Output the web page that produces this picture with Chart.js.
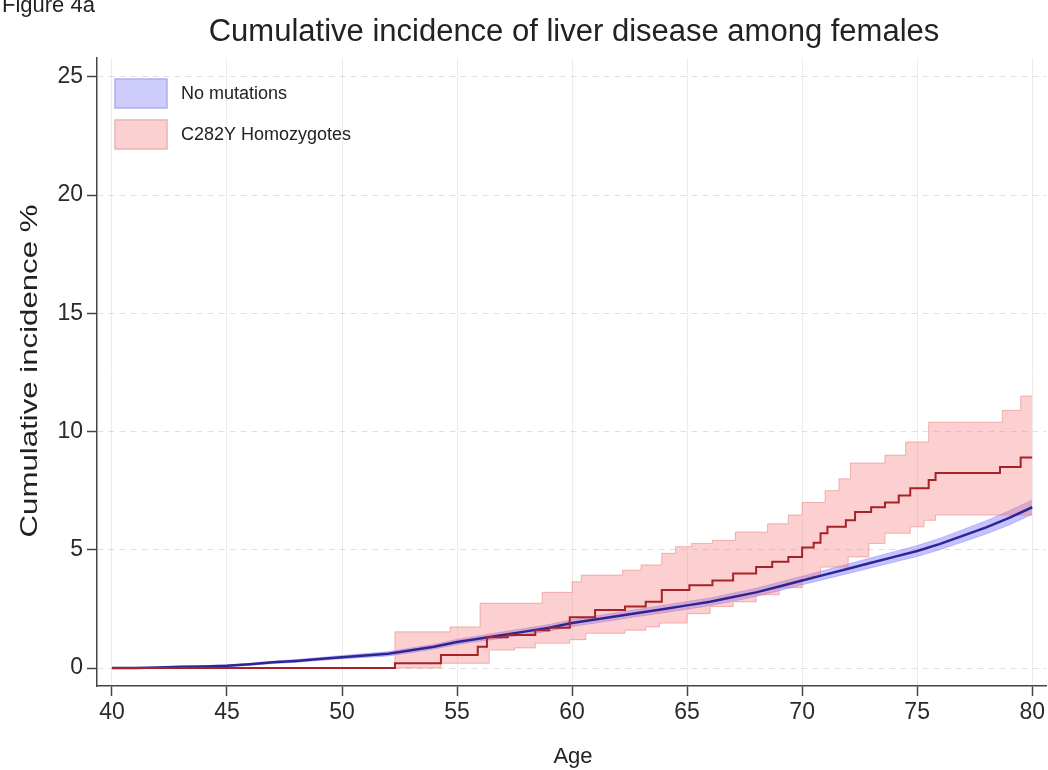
<!DOCTYPE html>
<html>
<head>
<meta charset="utf-8">
<title>Cumulative incidence of liver disease among females</title>
<script src="https://cdn.jsdelivr.net/npm/chart.js@4.4.1/dist/chart.umd.min.js"></script>
<style>
  html, body { margin: 0; padding: 0; background: #fff; }
  #wrap { width: 1048px; height: 770px; }
</style>
</head>
<body>
<div id="wrap"><canvas id="chart" width="1048" height="770"></canvas></div>
<script>
const FONT = "'Liberation Sans', Arial, Helvetica, sans-serif";

const figureLabel = 'Figure 4a';
const chartTitle = 'Cumulative incidence of liver disease among females';
const xTitle = 'Age';
const yTitle = 'Cumulative incidence %';
const seriesNames = ['No mutations', 'C282Y Homozygotes'];

const xTicks = [40, 45, 50, 55, 60, 65, 70, 75, 80];
const yTicks = [0, 5, 10, 15, 20, 25];

// No mutations: estimate and confidence band, read at each year of age
const blueAges = [40, 41, 42, 43, 44, 45, 46, 47, 48, 49, 50, 51, 52, 53, 54, 55, 56, 57, 58, 59,
  60, 61, 62, 63, 64, 65, 66, 67, 68, 69, 70, 71, 72, 73, 74, 75, 76, 77, 78, 79, 80];
const blueValues = [0, 0, 0.02, 0.05, 0.07, 0.1, 0.16, 0.24, 0.3, 0.38, 0.46, 0.53, 0.6, 0.75, 0.9, 1.1, 1.25, 1.4, 1.55, 1.7,
  1.9, 2.05, 2.2, 2.35, 2.5, 2.65, 2.8, 3.0, 3.2, 3.45, 3.7, 3.95, 4.2, 4.45, 4.7, 4.95, 5.25, 5.6, 5.95, 6.35, 6.8];
const blueUpper = [0.01, 0.01, 0.04, 0.08, 0.1, 0.14, 0.2, 0.29, 0.36, 0.44, 0.53, 0.61, 0.69, 0.85, 1.0, 1.21, 1.37, 1.53, 1.68, 1.84,
  2.04, 2.2, 2.35, 2.5, 2.66, 2.81, 2.96, 3.17, 3.37, 3.63, 3.88, 4.14, 4.4, 4.66, 4.92, 5.18, 5.49, 5.86, 6.23, 6.65, 7.1];
const blueLower = [0, 0, 0.01, 0.03, 0.04, 0.06, 0.12, 0.19, 0.24, 0.32, 0.39, 0.45, 0.51, 0.65, 0.8, 0.99, 1.13, 1.27, 1.42, 1.56,
  1.76, 1.9, 2.05, 2.2, 2.34, 2.49, 2.64, 2.83, 3.03, 3.27, 3.52, 3.76, 4.0, 4.24, 4.48, 4.72, 5.01, 5.34, 5.67, 6.05, 6.5];

// C282Y homozygotes: step function (value holds from each age onward)
const redAges = [40, 52.3, 54.3, 55.9, 56.3, 57.2, 58.4, 59.0, 59.9, 61.0, 62.3, 63.2, 63.9, 65.1, 66.1, 67.0, 68.0,
  68.7, 69.4, 70.0, 70.5, 70.8, 71.1, 71.9, 72.3, 73.0, 73.6, 74.2, 74.7, 75.5, 75.8, 78.6, 79.5, 80.0];
const redValues = [0, 0.2, 0.55, 0.9, 1.3, 1.4, 1.6, 1.7, 2.15, 2.45, 2.6, 2.8, 3.3, 3.5, 3.7, 4.0, 4.27,
  4.5, 4.7, 5.1, 5.3, 5.7, 5.97, 6.25, 6.6, 6.8, 7.0, 7.3, 7.6, 7.95, 8.25, 8.5, 8.9, 8.9];

const redUpperAges = [40, 52.3, 54.7, 56.0, 58.7, 60.0, 60.4, 62.2, 63.0, 63.9, 64.5, 65.2, 66.1, 67.1, 68.5, 69.4,
  70.0, 71.0, 71.6, 72.1, 73.6, 74.5, 75.5, 78.7, 79.5, 80.0];
const redUpper = [0, 1.53, 1.74, 2.74, 3.2, 3.65, 3.93, 4.14, 4.36, 4.85, 5.13, 5.27, 5.4, 5.75, 6.1, 6.47,
  7.0, 7.5, 8.0, 8.67, 9.0, 9.56, 10.4, 10.9, 11.5, 11.5];

const redLowerAges = [40, 54.3, 56.4, 57.5, 58.4, 59.9, 60.6, 62.3, 63.2, 63.8, 65.0, 66.0, 67.0, 68.0, 69.0, 70.0,
  70.8, 72.0, 72.9, 73.6, 74.7, 75.3, 75.8, 80.0];
const redLower = [0, 0.2, 0.76, 0.85, 1.05, 1.2, 1.47, 1.6, 1.74, 1.9, 2.3, 2.6, 2.8, 3.1, 3.4, 3.85,
  4.27, 4.7, 5.27, 5.7, 5.97, 6.25, 6.47, 6.47];

const blueFill = 'rgba(120, 110, 255, 0.42)';
const redFill = 'rgba(245, 120, 120, 0.35)';

function toPoints(ages, values) {
  return ages.map((age, i) => ({ x: age, y: values[i] }));
}

// titles, axis titles and the legend drawn at fixed spots like the original figure
const annotations = {
  id: 'annotations',
  afterDatasetsDraw(chart) {
    const { ctx, chartArea } = chart;
    ctx.save();
    ctx.fillStyle = '#222';

    ctx.font = `22px ${FONT}`;
    ctx.textAlign = 'left';
    ctx.textBaseline = 'alphabetic';
    ctx.fillText(figureLabel, 2, 12);

    ctx.font = `31px ${FONT}`;
    ctx.textAlign = 'center';
    ctx.fillText(chartTitle, 574, 41);

    ctx.font = `22px ${FONT}`;
    ctx.fillText(xTitle, 573, 763);

    ctx.save();
    ctx.translate(37, 371);
    ctx.rotate(-Math.PI / 2);
    ctx.scale(1.3, 1);
    ctx.font = `24px ${FONT}`;
    ctx.fillText(yTitle, 0, 0);
    ctx.restore();

    // legend
    const boxes = [
      { fill: 'rgb(206, 204, 250)', stroke: 'rgb(178, 174, 236)' },
      { fill: 'rgb(251, 208, 208)', stroke: 'rgb(238, 178, 178)' },
    ];
    ctx.font = `18px ${FONT}`;
    ctx.textAlign = 'left';
    ctx.textBaseline = 'middle';
    seriesNames.forEach((name, i) => {
      const bx = chartArea.left + 18;
      const by = chartArea.top + 21 + i * 41;
      ctx.fillStyle = boxes[i].fill;
      ctx.fillRect(bx, by, 52, 29);
      ctx.strokeStyle = boxes[i].stroke;
      ctx.lineWidth = 1.5;
      ctx.strokeRect(bx, by, 52, 29);
      ctx.fillStyle = '#222';
      ctx.fillText(name, bx + 66, by + 15);
    });
    ctx.restore();
  },
};

const chart = new Chart(document.getElementById('chart'), {
  type: 'line',
  data: {
    datasets: [
      {
        label: seriesNames[1],
        data: toPoints(redAges, redValues),
        stepped: true,
        borderColor: 'rgb(165, 34, 40)',
        borderWidth: 2,
        fill: false,
        order: 0,
      },
      {
        label: seriesNames[0],
        data: toPoints(blueAges, blueValues),
        borderColor: 'rgb(44, 38, 148)',
        borderWidth: 2.5,
        tension: 0,
        fill: false,
        order: 1,
      },
      {
        label: 'C282Y upper',
        data: toPoints(redUpperAges, redUpper),
        stepped: true,
        borderColor: 'rgba(225, 130, 130, 0.55)',
        borderWidth: 1,
        backgroundColor: redFill,
        fill: '+1',
        order: 2,
      },
      {
        label: 'C282Y lower',
        data: toPoints(redLowerAges, redLower),
        stepped: true,
        borderColor: 'rgba(225, 130, 130, 0.55)',
        borderWidth: 1,
        fill: false,
        order: 3,
      },
      {
        label: 'No mutations upper',
        data: toPoints(blueAges, blueUpper),
        borderColor: 'rgba(150, 140, 255, 0.5)',
        borderWidth: 1,
        backgroundColor: blueFill,
        fill: '+1',
        order: 4,
      },
      {
        label: 'No mutations lower',
        data: toPoints(blueAges, blueLower),
        borderColor: 'rgba(150, 140, 255, 0.5)',
        borderWidth: 1,
        fill: false,
        order: 5,
      },
    ],
  },
  options: {
    responsive: false,
    animation: false,
    parsing: true,
    elements: { point: { radius: 0, hoverRadius: 0 } },
    layout: { padding: { top: 58, right: 1, bottom: 0, left: 0 } },
    plugins: {
      legend: { display: false },
      tooltip: { enabled: false },
      title: { display: false },
    },
    scales: {
      x: {
        type: 'linear',
        min: 39.35,
        max: 80.61,
        afterBuildTicks: (scale) => {
          scale.ticks = xTicks.map((value) => ({ value }));
        },
        afterFit: (scale) => {
          scale.height = 84;
        },
        grid: { color: 'rgba(0, 0, 0, 0.07)', lineWidth: 1, tickColor: '#444', tickLength: 10, tickWidth: 1.5 },
        border: { color: '#444', width: 1.5 },
        ticks: { font: { family: FONT, size: 23 }, color: '#2a2a2a', padding: 3, maxRotation: 0, autoSkip: false },
      },
      y: {
        type: 'linear',
        min: -0.76,
        max: 25.8,
        afterBuildTicks: (scale) => {
          scale.ticks = yTicks.map((value) => ({ value }));
        },
        afterFit: (scale) => {
          scale.width = 97;
        },
        grid: {
          color: 'rgba(0, 0, 0, 0.12)',
          lineWidth: 1,
          tickColor: '#444',
          tickLength: 10,
          tickWidth: 1.5,
          borderDash: [6, 5],
        },
        border: { color: '#444', width: 1.5, dash: [6, 5] },
        ticks: { font: { family: FONT, size: 23 }, color: '#2a2a2a', padding: 4 },
      },
    },
  },
  plugins: [annotations],
});
</script>
</body>
</html>
